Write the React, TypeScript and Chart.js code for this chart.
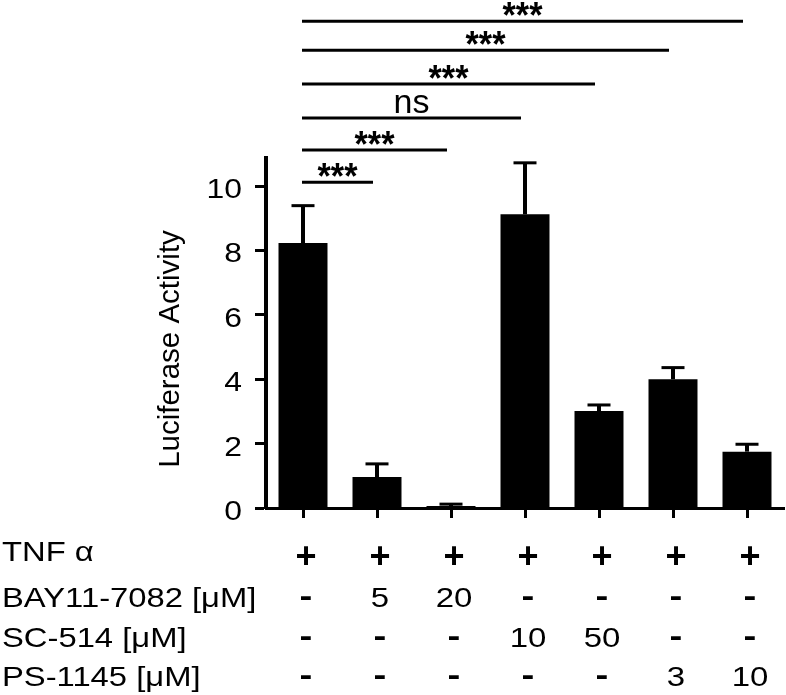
import { useEffect, useRef } from 'react';
import { Chart, registerables } from 'chart.js';

Chart.register(...registerables);

// ---- data ----
const categories = ['c1', 'c2', 'c3', 'c4', 'c5', 'c6', 'c7'];
const meanValues = [8.23, 0.96, 0.06, 9.12, 3.01, 4.0, 1.75];
const errorValues = [1.16, 0.41, 0.06, 1.6, 0.19, 0.36, 0.23];
const yTicks = [0, 2, 4, 6, 8, 10];
const yMax = 10.87;
const yTitle = 'Luciferase Activity';

const rowLabels = ['TNF α', 'BAY11-7082 [μM]', 'SC-514 [μM]', 'PS-1145 [μM]'];
const tnfRow = ['+', '+', '+', '+', '+', '+', '+'];
const bayRow = ['-', '5', '20', '-', '-', '-', '-'];
const scRow = ['-', '-', '-', '10', '50', '-', '-'];
const psRow = ['-', '-', '-', '-', '-', '3', '10'];
const tableRows = [tnfRow, bayRow, scRow, psRow];

const sigTargets = [1, 2, 3, 4, 5, 6];
const sigLevels = [10.12, 11.12, 12.11, 13.17, 14.22, 15.12];
const sigLabels = ['***', '***', 'ns', '***', '***', '***'];

// ---- style ----
const FONT = '"Liberation Sans", Arial, Helvetica, sans-serif';
const rowBaselines = [561, 607, 647, 686];

function drawText(
  ctx: CanvasRenderingContext2D,
  text: string,
  x: number,
  y: number,
  font: string,
  sx: number,
  align: CanvasTextAlign
) {
  ctx.save();
  ctx.font = font;
  ctx.textAlign = align;
  ctx.textBaseline = 'alphabetic';
  ctx.fillStyle = '#000';
  ctx.translate(x, y);
  ctx.scale(sx, 1);
  ctx.fillText(text, 0, 0);
  ctx.restore();
}

const annotationPlugin = {
  id: 'annotations',
  afterDatasetsDraw(chart: any) {
    const ctx: CanvasRenderingContext2D = chart.ctx;
    const yScale = chart.scales.y;
    const meta = chart.getDatasetMeta(0);
    ctx.save();
    ctx.strokeStyle = '#000';
    meta.data.forEach((bar: any, i: number) => {
      const top = yScale.getPixelForValue(meanValues[i]);
      const errTop = yScale.getPixelForValue(meanValues[i] + errorValues[i]);
      ctx.lineWidth = 4;
      ctx.beginPath();
      ctx.moveTo(bar.x, top);
      ctx.lineTo(bar.x, errTop);
      ctx.stroke();
      ctx.lineWidth = 3;
      ctx.beginPath();
      ctx.moveTo(bar.x - 11.5, errTop);
      ctx.lineTo(bar.x + 11.5, errTop);
      ctx.stroke();
    });
    ctx.restore();
  },
  afterDraw(chart: any) {
    const ctx: CanvasRenderingContext2D = chart.ctx;
    const xScale = chart.scales.x;
    const yScale = chart.scales.y;

    // y tick labels
    yTicks.forEach((v) => {
      const py = yScale.getPixelForValue(v);
      drawText(ctx, String(v), 242, py + 12, `27px ${FONT}`, 1.18, 'right');
    });

    // y title
    ctx.save();
    ctx.fillStyle = '#000';
    ctx.font = `29.5px ${FONT}`;
    ctx.textAlign = 'center';
    ctx.textBaseline = 'alphabetic';
    ctx.translate(178.5, 349);
    ctx.rotate(-Math.PI / 2);
    ctx.fillText(yTitle, 0, 0);
    ctx.restore();

    // significance brackets
    ctx.save();
    ctx.strokeStyle = '#000';
    ctx.lineWidth = 3;
    sigTargets.forEach((t, k) => {
      const y = yScale.getPixelForValue(sigLevels[k]);
      const x1 = xScale.getPixelForValue(0) - 1;
      const x2 = xScale.getPixelForValue(t) - 4;
      ctx.beginPath();
      ctx.moveTo(x1, y);
      ctx.lineTo(x2, y);
      ctx.stroke();
      const mid = (x1 + x2) / 2;
      if (sigLabels[k] === 'ns') {
        drawText(ctx, sigLabels[k], mid, y - 5, `34px ${FONT}`, 1.0, 'center');
      } else {
        drawText(ctx, sigLabels[k], mid, y + 7, `bold 36px ${FONT}`, 0.95, 'center');
      }
    });
    ctx.restore();

    // treatment table
    rowLabels.forEach((label, r) => {
      drawText(ctx, label, 2, rowBaselines[r], `28px ${FONT}`, 1.17, 'left');
    });
    tableRows.forEach((row, r) => {
      row.forEach((cell, i) => {
        const x = xScale.getPixelForValue(i) + 3;
        const b = rowBaselines[r];
        if (cell === '+') {
          drawText(ctx, cell, x, b + 7, `bold 36px ${FONT}`, 1.0, 'center');
        } else if (cell === '-') {
          drawText(ctx, cell, x, b - 1, `bold 32px ${FONT}`, 1.2, 'center');
        } else {
          drawText(ctx, cell, x, b, `27px ${FONT}`, 1.22, 'center');
        }
      });
    });
  },
};

export default function App() {
  const canvasRef = useRef<HTMLCanvasElement | null>(null);

  useEffect(() => {
    const canvas = canvasRef.current;
    if (!canvas) return;
    const chart = new Chart(canvas, {
      type: 'bar',
      data: {
        labels: categories,
        datasets: [
          {
            data: meanValues,
            backgroundColor: '#000',
            borderWidth: 0,
            barPercentage: 0.662,
            categoryPercentage: 1.0,
          },
        ],
      },
      options: {
        animation: false,
        responsive: false,
        maintainAspectRatio: false,
        layout: { padding: { top: 158, right: 2, left: 0, bottom: 0 } },
        plugins: {
          legend: { display: false },
          tooltip: { enabled: false },
          title: { display: false },
        },
        scales: {
          x: {
            type: 'category',
            offset: true,
            grid: {
              display: true,
              offset: false,
              drawOnChartArea: false,
              drawTicks: true,
              tickLength: 10,
              tickWidth: 3,
              tickColor: '#000',
            },
            border: { display: true, color: '#000', width: 3 },
            ticks: { display: false },
            afterFit: (scale: any) => {
              scale.height = 187;
            },
          },
          y: {
            type: 'linear',
            min: 0,
            max: yMax,
            grid: {
              display: true,
              drawOnChartArea: false,
              drawTicks: true,
              tickLength: 11,
              tickWidth: 3,
              tickColor: '#000',
            },
            border: { display: true, color: '#000', width: 4 },
            ticks: { display: false, includeBounds: false },
            afterBuildTicks: (scale: any) => {
              scale.ticks = yTicks.map((v) => ({ value: v }));
            },
            afterFit: (scale: any) => {
              scale.width = 266;
            },
          },
        },
      },
      plugins: [annotationPlugin],
    } as any);
    return () => chart.destroy();
  }, []);

  return (
    <div style={{ position: 'absolute', left: 0, top: 0, width: 786, height: 695, background: '#fff' }}>
      <canvas ref={canvasRef} width={786} height={695} style={{ display: 'block' }} />
    </div>
  );
}
